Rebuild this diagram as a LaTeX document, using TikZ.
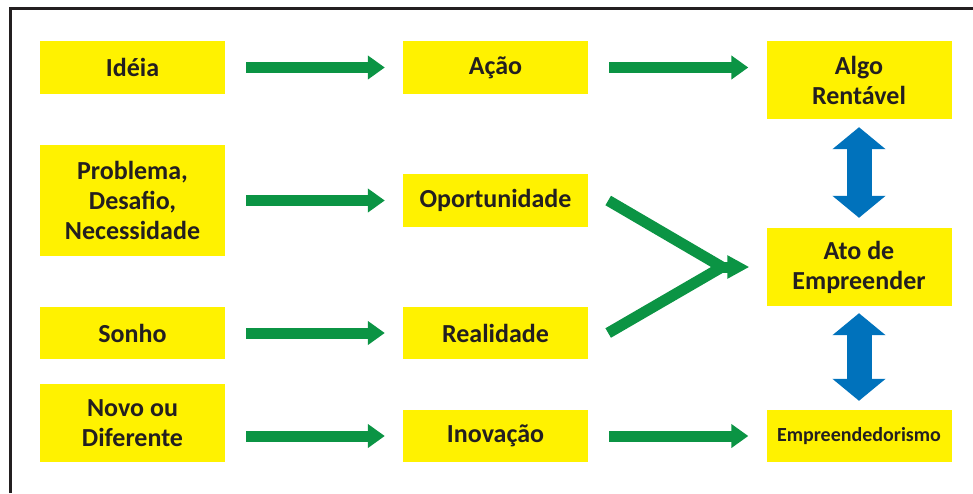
\documentclass[tikz,border=0pt]{standalone}
\usepackage{fontspec}
\setmainfont{Carlito}
\usetikzlibrary{arrows.meta}
\definecolor{boxyellow}{HTML}{FFF200}
\definecolor{arrowgreen}{HTML}{0B9444}
\definecolor{arrowblue}{HTML}{0072BC}
\definecolor{textdark}{HTML}{231F20}
\tikzset{
	caixa/.style={fill=boxyellow, text=textdark, font=\fontsize{26}{30}\selectfont\bfseries, align=center, minimum width=185pt, inner sep=0pt},
	seta/.style={line width=11pt, color=arrowgreen, -{Triangle[length=17pt,width=23pt]}, shorten <=21pt, shorten >=18pt},
	setadupla/.style={line width=25pt, color=arrowblue, {Triangle[length=22pt,width=52pt]}-{Triangle[length=22pt,width=52pt]}, shorten <=8pt, shorten >=10pt},
}

\begin{document}
\begin{tikzpicture}[x=1pt, y=-1pt]
			%%%%% START %%%%%
			\useasboundingbox (0, 0) rectangle (973, 493);
			
			% moldura
			\draw[line width=3pt, color=textdark] (10, 493) -- (10, 8.5) -- (973, 8.5);
			
			% coluna da esquerda
			\node[caixa, minimum height=53pt] (ideia) at (132.5, 67.5) {Idéia};
			\node[caixa, minimum height=111pt] (problema) at (132.5, 200.5) {Problema,\\Desaf{}io,\\Necessidade};
			\node[caixa, minimum height=52pt] (sonho) at (132.5, 333) {Sonho};
			\node[caixa, minimum height=78pt] (novo) at (132.5, 423) {Novo ou\\Diferente};
			
			% coluna do meio
			\node[caixa, minimum height=53pt] (acao) at (495.5, 67.5) {Ação};
			\node[caixa, minimum height=53pt] (oportunidade) at (495.5, 200.5) {Oportunidade};
			\node[caixa, minimum height=52pt] (realidade) at (495.5, 333) {Realidade};
			\node[caixa, minimum height=52pt] (inovacao) at (495.5, 436) {Inovação};
			
			% coluna da direita
			\node[caixa, minimum height=78pt] (algo) at (859, 80) {Algo\\Rentável};
			\node[caixa, minimum height=78pt] (ato) at (859, 267) {Ato de\\Empreender};
			\node[caixa, minimum height=52pt, font=\fontsize{20}{24}\selectfont\bfseries] (empre) at (859, 436) {Empreendedorismo};
			
			% setas verdes
			\draw[seta] (ideia) -- (acao);
			\draw[seta] (problema) -- (oportunidade);
			\draw[seta] (sonho) -- (realidade);
			\draw[seta] (novo.east |- inovacao.west) -- (inovacao.west);
			\draw[seta] (acao) -- (acao.east -| algo.west);
			\draw[seta] (inovacao) -- (empre);
			
			% setas que se juntam
			\coordinate (juncao) at (722, 267);
			\draw[line width=11pt, color=arrowgreen] ([xshift=20pt]oportunidade.east) -- (juncao);
			\draw[line width=11pt, color=arrowgreen] ([xshift=20pt]realidade.east) -- (juncao);
			\draw[seta, shorten <=0pt, shorten >=17pt, -{Triangle[length=22pt,width=22pt]}] ([xshift=-10pt]juncao) -- (ato.west);
			
			% setas azuis
			\draw[setadupla] (algo) -- (ato);
			\draw[setadupla, shorten <=7pt, shorten >=9pt] (ato) -- (empre);
			
			%%%%% END %%%%%
		\end{tikzpicture}
\end{document}
